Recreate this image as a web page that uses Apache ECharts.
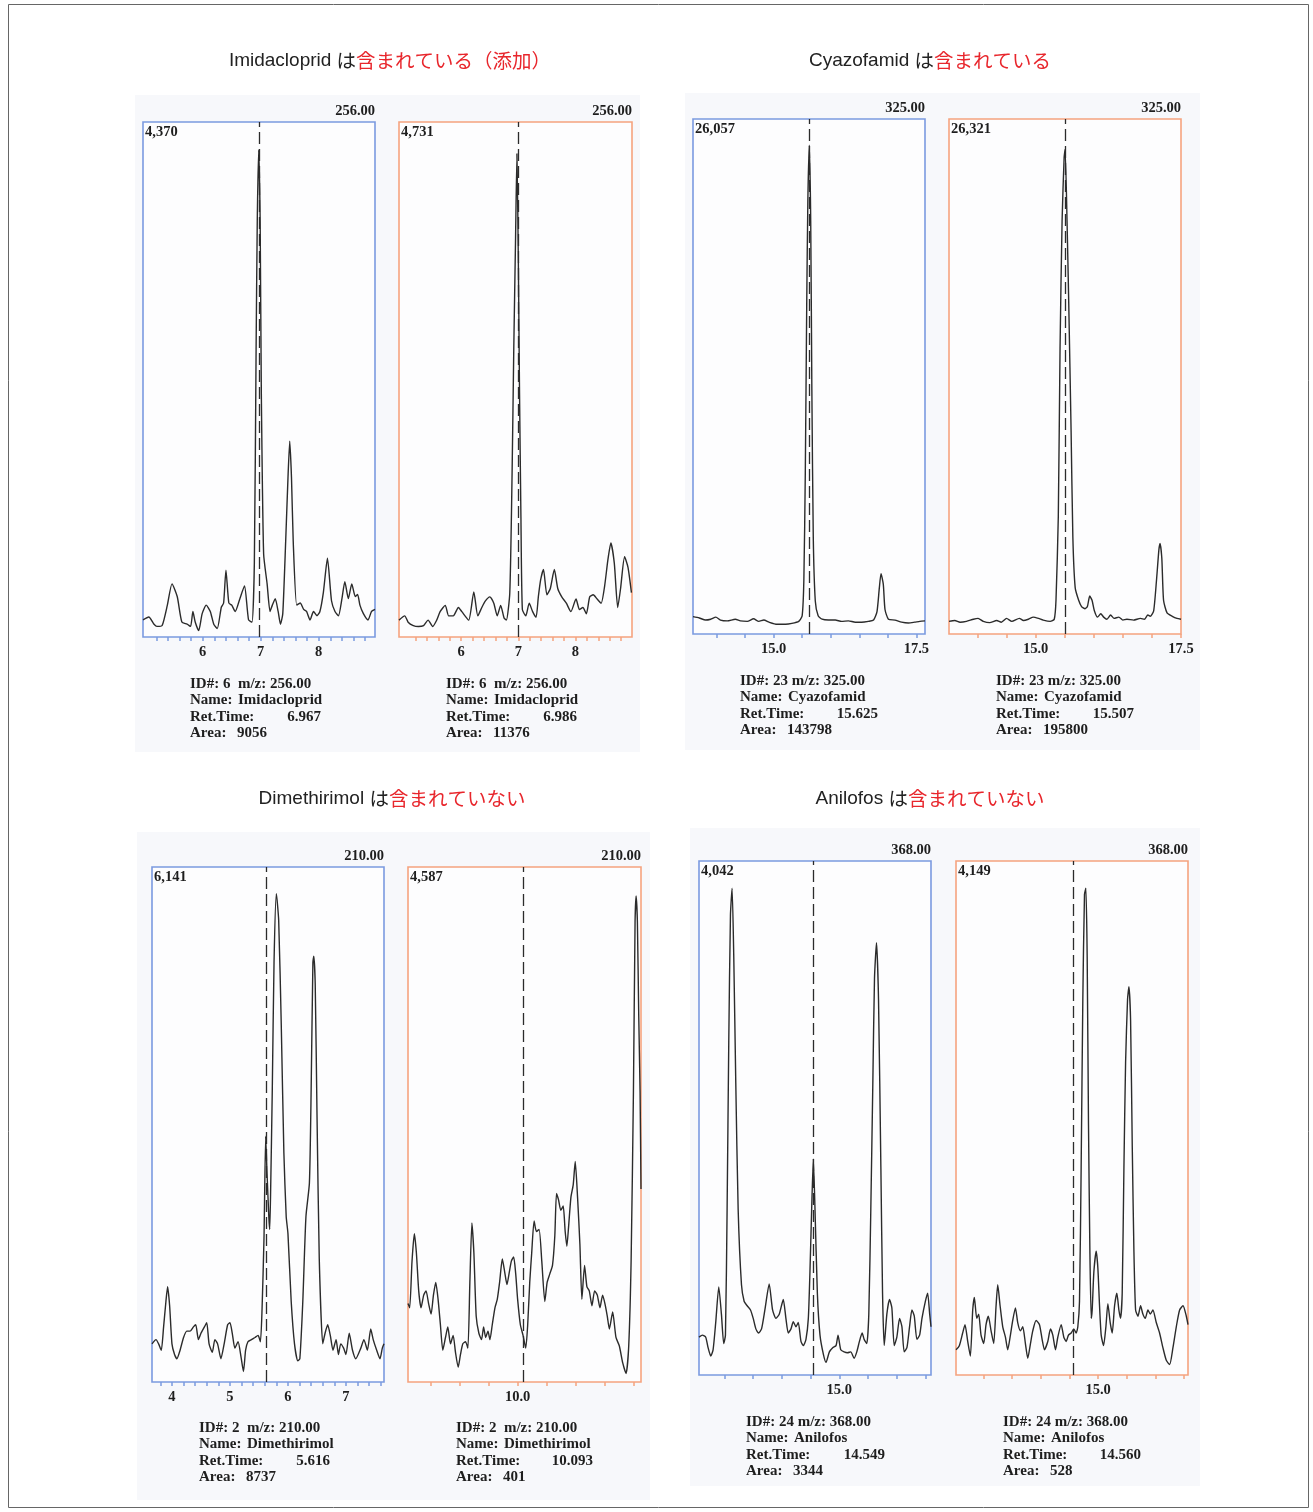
<!DOCTYPE html>
<html><head><meta charset="utf-8">
<script src="https://cdn.jsdelivr.net/npm/echarts@6/dist/echarts.min.js"></script>
<style>html,body{margin:0;padding:0;background:#fff}#c{width:1313px;height:1512px}</style>
</head><body><div id="c"></div>
<script>
// ---------------- DATA ----------------
const titleNames = ['Imidacloprid', 'Cyazofamid', 'Dimethirimol', 'Anilofos'];
const titleStatus = ['含まれている（添加）', '含まれている', '含まれていない', '含まれていない'];

const mzLabels = ['256.00', '256.00', '325.00', '325.00', '210.00', '210.00', '368.00', '368.00'];
const maxLabels = ['4,370', '4,731', '26,057', '26,321', '6,141', '4,587', '4,042', '4,149'];
const idLines = ['ID#: 6  m/z: 256.00', 'ID#: 6  m/z: 256.00', 'ID#: 23 m/z: 325.00', 'ID#: 23 m/z: 325.00',
                 'ID#: 2  m/z: 210.00', 'ID#: 2  m/z: 210.00', 'ID#: 24 m/z: 368.00', 'ID#: 24 m/z: 368.00'];
const compoundNames = ['Imidacloprid', 'Imidacloprid', 'Cyazofamid', 'Cyazofamid', 'Dimethirimol', 'Dimethirimol', 'Anilofos', 'Anilofos'];
const retTimes = ['6.967', '6.986', '15.625', '15.507', '5.616', '10.093', '14.549', '14.560'];
const areas = ['9056', '11376', '143798', '195800', '8737', '401', '3344', '528'];

const ticksA = [5.2, 5.4, 5.6, 5.8, 6, 6.2, 6.4, 6.6, 6.8, 7, 7.2, 7.4, 7.6, 7.8, 8, 8.2, 8.4, 8.6, 8.8];
const labelValsA = [6, 7, 8];
const labelTextsA = ['6', '7', '8'];
const ticksB = [14, 14.5, 15, 15.5, 16, 16.5, 17, 17.5];
const labelValsB = [15, 17.5];
const labelTextsB = ['15.0', '17.5'];
const ticksC1 = [3.8, 4, 4.2, 4.4, 4.6, 4.8, 5, 5.2, 5.4, 5.6, 5.8, 6, 6.2, 6.4, 6.6, 6.8, 7, 7.2, 7.4, 7.6];
const labelValsC1 = [4, 5, 6, 7];
const labelTextsC1 = ['4', '5', '6', '7'];
const ticksC2 = [8.5, 9, 9.5, 10, 10.5, 11, 11.5, 12];
const labelValsC2 = [10];
const labelTextsC2 = ['10.0'];
const ticksD = [13, 13.5, 14, 14.5, 15, 15.5, 16, 16.5];
const labelValsD = [15];
const labelTextsD = ['15.0'];

const imidaBlue = [[4.97,153],[5.07,179],[5.16,115],[5.21,95],[5.30,103],[5.39,286],[5.47,477],[5.56,363],[5.64,134],[5.73,115],[5.79,95],[5.83,229],[5.87,134],[5.93,57],[5.99,210],[6.06,286],[6.13,229],[6.19,115],[6.25,76],[6.32,267],[6.36,305],[6.40,600],[6.45,305],[6.50,286],[6.56,229],[6.64,344],[6.72,458],[6.79,153],[6.85,134],[6.89,668],[6.92,2577],[6.94,3723],[6.965,4370],[6.99,3723],[7.01,2195],[7.05,744],[7.11,477],[7.16,229],[7.20,286],[7.25,344],[7.30,229],[7.34,115],[7.38,210],[7.43,859],[7.47,1432],[7.50,1756],[7.53,1432],[7.56,859],[7.62,286],[7.68,305],[7.74,248],[7.79,229],[7.85,153],[7.91,229],[7.97,191],[8.02,229],[8.08,401],[8.15,706],[8.22,325],[8.28,229],[8.34,191],[8.40,344],[8.45,496],[8.51,344],[8.57,477],[8.63,363],[8.67,382],[8.71,286],[8.77,210],[8.85,153],[8.91,229],[8.97,248]];

const imidaOrange = [[4.91,165],[5.01,207],[5.07,145],[5.16,112],[5.25,103],[5.34,112],[5.42,165],[5.50,103],[5.57,165],[5.63,248],[5.72,310],[5.78,207],[5.86,207],[5.95,289],[6.01,248],[6.13,165],[6.22,442],[6.29,207],[6.36,289],[6.42,351],[6.50,393],[6.57,331],[6.63,207],[6.69,310],[6.75,186],[6.79,165],[6.85,434],[6.89,1591],[6.92,2830],[6.95,3863],[6.975,4731],[7.00,3657],[7.02,2417],[7.045,1178],[7.07,269],[7.13,207],[7.19,331],[7.25,248],[7.31,194],[7.35,393],[7.39,558],[7.44,661],[7.50,413],[7.56,475],[7.63,661],[7.69,475],[7.76,393],[7.84,331],[7.92,248],[8.01,372],[8.07,269],[8.13,289],[8.19,227],[8.25,393],[8.31,413],[8.38,372],[8.45,331],[8.51,496],[8.57,764],[8.62,921],[8.68,723],[8.74,289],[8.79,475],[8.86,785],[8.92,682],[8.98,434]];

const cyazoBlue = [[13.59,923],[13.70,855],[13.81,743],[13.90,788],[13.99,900],[14.07,743],[14.19,698],[14.33,788],[14.42,698],[14.54,675],[14.65,810],[14.74,675],[14.83,743],[14.92,630],[15.06,518],[15.21,518],[15.32,563],[15.44,675],[15.50,968],[15.53,2880],[15.555,8505],[15.58,17505],[15.60,23130],[15.625,26057],[15.65,22005],[15.67,13005],[15.695,5130],[15.73,1755],[15.78,968],[15.85,788],[15.96,743],[16.08,743],[16.19,675],[16.31,698],[16.43,630],[16.54,630],[16.66,675],[16.75,743],[16.81,1193],[16.85,2430],[16.88,3218],[16.92,2655],[16.95,1305],[17.01,788],[17.125,743],[17.24,630],[17.36,585],[17.47,630],[17.56,675],[17.65,698]];

const cyazoOrange = [[13.51,687],[13.61,733],[13.70,641],[13.81,687],[13.93,802],[14.01,847],[14.10,687],[14.21,618],[14.33,733],[14.41,641],[14.50,847],[14.59,687],[14.72,847],[14.79,733],[14.875,802],[14.96,916],[15.05,847],[15.13,756],[15.25,687],[15.32,802],[15.35,1832],[15.39,6412],[15.42,15572],[15.455,22442],[15.49,25877],[15.507,26321],[15.54,22442],[15.57,17862],[15.61,10992],[15.64,5267],[15.68,2519],[15.74,1832],[15.79,1489],[15.85,1374],[15.89,1489],[15.93,2061],[15.97,1832],[16.01,1260],[16.065,916],[16.12,1099],[16.17,916],[16.225,802],[16.29,1031],[16.35,847],[16.43,916],[16.50,756],[16.57,802],[16.685,756],[16.80,847],[16.87,802],[16.93,1031],[16.97,962],[17.03,1260],[17.08,2977],[17.12,4580],[17.14,4924],[17.17,4122],[17.20,1832],[17.26,1145],[17.35,962],[17.43,847],[17.50,802]];

const dimethBlue = [[3.656,480],[3.725,533],[3.77,480],[3.816,400],[3.856,693],[3.896,1013],[3.925,1199],[3.96,959],[4.0,480],[4.045,346],[4.085,293],[4.14,400],[4.20,560],[4.256,640],[4.313,640],[4.37,693],[4.41,720],[4.456,533],[4.50,613],[4.56,693],[4.60,746],[4.64,480],[4.696,373],[4.74,533],[4.787,480],[4.844,293],[4.90,480],[4.96,720],[5.0,746],[5.04,613],[5.085,426],[5.14,506],[5.19,320],[5.233,133],[5.27,400],[5.31,506],[5.37,533],[5.43,560],[5.485,586],[5.525,506],[5.553,906],[5.587,1812],[5.616,3091],[5.64,2612],[5.67,2079],[5.685,1919],[5.70,2345],[5.73,3678],[5.76,5277],[5.80,6141],[5.84,5810],[5.885,4477],[5.93,2878],[5.97,2079],[6.0,1866],[6.056,1013],[6.113,480],[6.17,267],[6.205,293],[6.256,1013],[6.31,2079],[6.37,2505],[6.40,3678],[6.43,5277],[6.445,5357],[6.47,5010],[6.50,3411],[6.54,1546],[6.60,480],[6.64,613],[6.685,720],[6.73,586],[6.776,400],[6.83,533],[6.87,346],[6.91,480],[6.96,426],[7.0,346],[7.056,613],[7.113,400],[7.17,293],[7.256,426],[7.31,533],[7.37,400],[7.427,666],[7.47,533],[7.53,400],[7.587,293],[7.627,426],[7.656,480]];

const dimethOrange = [[8.116,740],[8.145,700],[8.185,1140],[8.225,1400],[8.26,1220],[8.30,860],[8.34,700],[8.386,820],[8.426,860],[8.47,740],[8.513,640],[8.553,820],[8.593,940],[8.633,780],[8.673,540],[8.714,300],[8.76,420],[8.80,520],[8.846,360],[8.892,440],[8.932,280],[8.978,140],[9.018,260],[9.058,360],[9.104,380],[9.145,320],[9.179,940],[9.214,1500],[9.248,1220],[9.288,620],[9.334,460],[9.38,400],[9.415,520],[9.45,420],[9.49,480],[9.524,400],[9.564,540],[9.61,700],[9.65,780],[9.69,940],[9.737,1160],[9.777,1040],[9.817,920],[9.852,1020],[9.892,1140],[9.932,1180],[9.967,1020],[10.0,780],[10.047,540],[10.093,440],[10.139,320],[10.173,540],[10.208,940],[10.242,1220],[10.283,1520],[10.323,1420],[10.369,1440],[10.415,1140],[10.467,760],[10.507,940],[10.553,1020],[10.599,1100],[10.639,1380],[10.668,1780],[10.702,1720],[10.742,1620],[10.783,1660],[10.817,1420],[10.846,1280],[10.875,1460],[10.915,1740],[10.955,1860],[10.99,2080],[11.03,1740],[11.07,1300],[11.104,780],[11.15,1100],[11.19,900],[11.231,860],[11.277,720],[11.323,860],[11.369,820],[11.415,700],[11.46,820],[11.50,740],[11.541,620],[11.576,500],[11.633,660],[11.69,420],[11.748,340],[11.806,180],[11.863,80],[11.909,340],[11.95,1140],[11.99,2740],[12.018,4340],[12.036,4587],[12.058,4340],[12.081,3460],[12.104,2740],[12.12,1820]];

const anilBlue = [[12.56,314],[12.62,331],[12.677,314],[12.718,227],[12.764,157],[12.805,209],[12.851,436],[12.904,732],[12.95,505],[12.99,261],[13.02,331],[13.049,1377],[13.078,2771],[13.107,3816],[13.136,4042],[13.165,3468],[13.20,2422],[13.241,1377],[13.299,749],[13.346,610],[13.398,575],[13.456,540],[13.503,470],[13.549,383],[13.596,349],[13.648,383],[13.706,540],[13.781,756],[13.84,540],[13.898,470],[13.956,505],[14.026,627],[14.072,470],[14.113,349],[14.16,383],[14.20,443],[14.247,401],[14.287,436],[14.334,279],[14.375,244],[14.421,296],[14.462,470],[14.49,854],[14.52,1377],[14.549,1795],[14.578,1377],[14.619,680],[14.665,331],[14.723,174],[14.77,105],[14.828,192],[14.886,227],[14.944,244],[14.979,331],[15.026,209],[15.084,192],[15.142,185],[15.20,192],[15.258,139],[15.305,192],[15.351,279],[15.398,349],[15.433,296],[15.479,261],[15.514,505],[15.549,1377],[15.584,2422],[15.613,3293],[15.648,3590],[15.683,3119],[15.724,1725],[15.753,680],[15.782,244],[15.828,505],[15.874,627],[15.915,558],[15.956,244],[16.002,314],[16.049,470],[16.09,401],[16.13,192],[16.177,227],[16.223,401],[16.264,540],[16.305,488],[16.351,296],[16.398,331],[16.439,470],[16.497,610],[16.538,680],[16.573,505],[16.596,401]];

const anilOrange = [[12.525,215],[12.583,250],[12.641,358],[12.682,429],[12.729,286],[12.775,161],[12.816,554],[12.845,662],[12.886,483],[12.92,519],[12.961,340],[13.008,268],[13.048,429],[13.089,501],[13.136,376],[13.182,268],[13.223,590],[13.252,769],[13.293,590],[13.339,411],[13.386,322],[13.426,215],[13.473,340],[13.513,465],[13.56,572],[13.6,447],[13.647,376],[13.688,411],[13.734,268],[13.775,143],[13.822,268],[13.862,376],[13.92,465],[13.979,429],[14.025,304],[14.066,215],[14.124,286],[14.17,393],[14.211,340],[14.258,215],[14.298,322],[14.357,429],[14.403,322],[14.444,286],[14.484,340],[14.531,358],[14.577,393],[14.618,358],[14.647,411],[14.676,626],[14.705,1771],[14.734,3201],[14.763,4096],[14.787,4149],[14.81,3559],[14.833,2128],[14.857,1055],[14.88,483],[14.897,554],[14.926,876],[14.967,1055],[14.996,912],[15.025,590],[15.054,340],[15.095,250],[15.136,411],[15.17,608],[15.211,447],[15.246,358],[15.287,590],[15.327,698],[15.362,554],[15.391,483],[15.42,698],[15.45,1771],[15.479,2665],[15.513,3201],[15.537,3309],[15.566,3023],[15.595,1949],[15.624,1055],[15.653,554],[15.694,501],[15.74,590],[15.78,519],[15.822,483],[15.868,554],[15.909,519],[15.955,554],[16.013,447],[16.071,358],[16.129,233],[16.188,125],[16.246,89],[16.304,233],[16.362,411],[16.42,554],[16.479,590],[16.537,501],[16.566,429]];

// ---------------- LAYOUT / STYLE ----------------
const BLUE = '#7b9ae0', ORANGE = '#f5a37f';
const SERIF = '"Liberation Serif","DejaVu Serif",serif';
const SANS = '"Liberation Sans","Noto Sans CJK JP",sans-serif';
const JP = '"Noto Sans CJK JP","Liberation Sans",sans-serif';

const panels = [
  {trace: imidaBlue,   xr: [4.97, 8.97],   ymax: 4620,  color: BLUE,   box: [143, 122, 232, 515], ticks: ticksA,  lv: labelValsA,  lt: labelTextsA,  info: [190, 684, 321]},
  {trace: imidaOrange, xr: [4.91, 8.99],   ymax: 5041,  color: ORANGE, box: [399, 122, 233, 515], ticks: ticksA,  lv: labelValsA,  lt: labelTextsA,  info: [446, 684, 577]},
  {trace: cyazoBlue,   xr: [13.59, 17.65], ymax: 27450, color: BLUE,   box: [693, 119, 232, 515], ticks: ticksB,  lv: labelValsB,  lt: labelTextsB,  info: [740, 681, 878]},
  {trace: cyazoOrange, xr: [13.51, 17.5],  ymax: 27970, color: ORANGE, box: [949, 119, 232, 515], ticks: ticksB,  lv: labelValsB,  lt: labelTextsB,  info: [996, 681, 1134]},
  {trace: dimethBlue,  xr: [3.656, 7.656], ymax: 6478,  color: BLUE,   box: [152, 867, 232, 515], ticks: ticksC1, lv: labelValsC1, lt: labelTextsC1, info: [199, 1428, 330]},
  {trace: dimethOrange,xr: [8.116, 12.12], ymax: 4859,  color: ORANGE, box: [408, 867, 233, 515], ticks: ticksC2, lv: labelValsC2, lt: labelTextsC2, info: [456, 1428, 593]},
  {trace: anilBlue,    xr: [12.56, 16.596],ymax: 4268,  color: BLUE,   box: [699, 861, 232, 514], ticks: ticksD,  lv: labelValsD,  lt: labelTextsD,  info: [746, 1422, 885]},
  {trace: anilOrange,  xr: [12.525,16.566],ymax: 4381,  color: ORANGE, box: [956, 861, 232, 514], ticks: ticksD,  lv: labelValsD,  lt: labelTextsD,  info: [1003, 1422, 1141]}
];
const titlePos = [[390, 61], [930, 61], [392, 799], [930, 799]];
const quadBg = [[135, 95, 505, 657], [685, 93, 515, 657], [137, 832, 513, 668], [690, 828, 510, 658]];

const grids = [], xAxes = [], yAxes = [], series = [], graphics = [];

graphics.push({type: 'rect', z: -20, shape: {x: 8.5, y: 4.5, width: 1300, height: 1503}, style: {fill: '#fff', stroke: '#666', lineWidth: 1}});
quadBg.forEach(q => graphics.push({type: 'rect', z: -10, shape: {x: q[0], y: q[1], width: q[2], height: q[3]}, style: {fill: '#f7f8fb'}}));

titleNames.forEach((n, i) => {
  graphics.push({type: 'text', x: titlePos[i][0], y: titlePos[i][1], z: 5,
    style: {text: '{k|' + n + ' }{j|は}{r|' + titleStatus[i] + '}', align: 'center', verticalAlign: 'middle',
      rich: {k: {fill: '#222', fontSize: 19, fontFamily: SANS},
             j: {fill: '#222', fontSize: 19.5, fontFamily: JP},
             r: {fill: '#e8262c', fontSize: 19.5, fontFamily: JP}}}});
});

const txt = (x, y, s, align, size) => ({type: 'text', x: x, y: y, z: 5,
  style: {text: s, fill: '#1e1e1e', font: 'bold ' + (size || 15) + 'px ' + SERIF, align: align || 'left', verticalAlign: 'middle'}});

panels.forEach((p, i) => {
  const [l, t, w, h] = p.box;
  grids.push({left: l, top: t, width: w, height: h, show: true, borderColor: p.color, borderWidth: 1.6,
    backgroundColor: '#fdfdfe', containLabel: false, outerBoundsMode: 'none'});
  xAxes.push({type: 'value', gridIndex: i, min: p.xr[0], max: p.xr[1],
    axisLine: {show: false}, splitLine: {show: false},
    axisTick: {show: true, inside: false, length: 4, lineStyle: {color: p.color, width: 1.5}, customValues: p.ticks},
    axisLabel: {show: true, customValues: p.lv, margin: 8, fontSize: 14.5, fontWeight: 'bold', fontFamily: SERIF, color: '#1e1e1e',
      formatter: v => { const k = p.lv.findIndex(a => Math.abs(a - v) < 1e-6); return k >= 0 ? p.lt[k] : ''; }}});
  yAxes.push({type: 'value', gridIndex: i, min: 0, max: p.ymax, show: false});
  series.push({type: 'line', xAxisIndex: i, yAxisIndex: i, data: p.trace, showSymbol: false, smooth: 0.2,
    lineStyle: {color: '#2b2b2b', width: 1.4}, clip: true, silent: true, z: 3,
    markLine: {silent: true, symbol: ['none', 'none'], label: {show: false},
      lineStyle: {color: '#2b2b2b', width: 1.3, type: [12, 5]}, data: [{xAxis: parseFloat(retTimes[i])}]}});
  graphics.push(txt(l + w, t - 11, mzLabels[i], 'right', 14.5));
  graphics.push(txt(l + 2, t + 10, maxLabels[i], 'left', 14.5));
  const [x0, y0, rx] = p.info;
  graphics.push(txt(x0, y0, idLines[i]));
  graphics.push(txt(x0, y0 + 16.5, 'Name:'));
  graphics.push(txt(x0 + 48, y0 + 16.5, compoundNames[i]));
  graphics.push(txt(x0, y0 + 33, 'Ret.Time:'));
  graphics.push(txt(rx, y0 + 33, retTimes[i], 'right'));
  graphics.push(txt(x0, y0 + 49.5, 'Area:'));
  graphics.push(txt(x0 + 47, y0 + 49.5, areas[i]));
});

const chart = echarts.init(document.getElementById('c'));
chart.setOption({animation: false, backgroundColor: '#fff', grid: grids, xAxis: xAxes, yAxis: yAxes, series: series, graphic: graphics});
</script></body></html>
